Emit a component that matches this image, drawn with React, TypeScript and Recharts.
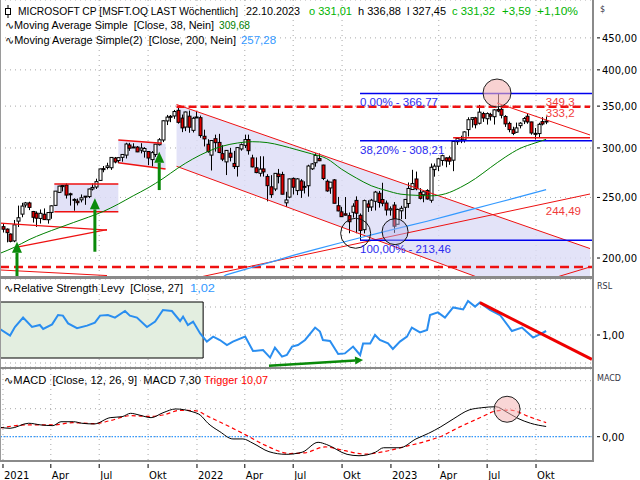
import React from 'react';
import {
  ComposedChart, Bar, Line, Area, XAxis, YAxis, CartesianGrid,
  ReferenceLine, ReferenceArea, ReferenceDot,
} from 'recharts';

const FONT = '"DejaVu Sans", "Liberation Sans", sans-serif';
const HFONT = '"Liberation Sans", "DejaVu Sans", sans-serif';

// Weekly candles, week 0 = week ending 1 Jan 2021
const opens = [224.5,222.5,218.5,213.0,229.1,235.1,243.2,245.0,237.4,235.9,231.4,235.0,230.3,236.6,242.8,254.7,260.2,261.7,253.4,247.9,246.6,247.8,251.2,250.8,257.9,259.8,266.2,278.0,279.2,278.9,289.0,286.4,289.8,292.2,303.3,301.1,301.0,297.6,296.3,296.1,287.4,292.9,303.6,308.9,331.4,337.1,337.5,344.6,334.9,324.0,337.3,320.1,335.5,335.4,313.2,304.1,292.2,310.4,306.2,293.8,285.0,294.3,283.4,280.3,298.9,302.9,309.4,289.2,278.9,273.3,277.7,270.1,260.0,257.9,272.5,272.1,245.1,250.3,268.2,256.4,265.7,259.8,261.0,277.8,284.1,288.5,281.7,265.4,258.9,266.7,242.5,237.1,235.4,233.8,236.7,247.3,234.1,222.0,244.1,241.4,246.5,253.9,248.1,244.9,238.7,243.1,226.5,238.0,241.1,244.5,257.4,267.6,254.5,252.5,256.4,247.4,277.0,280.5,286.5,289.2,289.3,286.8,307.0,309.1,309.1,321.0,333.3,335.2,328.6,340.5,334.1,339.2,336.6,345.7,345.9,336.9,328.4,320.8,317.9,325.7,331.3,337.2,330.2,316.6,316.3,330.6,331.0];
const highs = [227.2,223.0,218.9,230.1,242.6,245.1,245.9,246.1,237.9,237.5,239.2,240.1,236.9,242.8,256.0,261.0,261.8,263.2,254.4,249.2,249.0,252.8,251.3,258.3,263.2,267.9,278.0,280.7,284.1,290.0,290.2,289.6,292.9,305.8,305.7,305.2,302.1,305.3,300.9,296.5,296.6,304.5,311.1,332.0,338.8,338.7,345.1,349.7,339.3,343.0,344.3,336.4,343.8,338.0,320.9,309.8,308.5,315.1,316.0,303.1,297.6,300.1,296.8,301.0,305.0,315.1,315.1,292.6,289.7,291.0,290.9,272.4,271.4,273.3,277.7,274.8,255.3,268.0,269.1,268.5,267.5,265.3,282.0,283.7,294.2,294.0,282.0,267.1,264.7,267.5,250.5,241.5,250.4,236.5,244.7,251.0,235.7,248.0,247.4,248.7,256.1,256.1,263.9,247.2,241.9,245.8,239.9,242.4,248.3,264.2,276.8,275.0,258.7,255.6,257.7,283.3,283.3,289.3,292.7,289.8,291.6,308.9,312.0,313.8,319.0,335.9,335.9,336.5,351.5,342.7,342.0,341.5,346.0,366.8,351.9,338.5,330.5,324.4,329.4,329.9,336.2,340.9,330.4,322.9,329.2,336.1,336.9];
const lows = [219.7,211.9,211.9,212.0,224.2,232.4,240.9,238.6,227.9,224.3,227.1,230.1,227.0,231.1,242.7,254.6,255.6,249.0,242.6,238.1,242.8,245.5,243.3,249.4,256.5,257.9,265.9,274.3,277.2,276.7,283.5,283.7,285.2,288.6,296.8,300.0,295.4,294.1,289.5,281.6,280.3,290.3,302.7,306.5,326.4,329.9,334.0,328.1,318.0,319.2,317.3,317.6,335.3,311.5,301.7,294.8,276.1,296.0,294.3,285.8,271.5,285.5,277.6,270.0,297.0,300.0,292.7,279.3,273.3,270.0,270.0,246.4,249.6,255.9,263.3,252.9,241.5,249.3,252.7,252.2,249.6,253.7,250.8,276.6,280.0,285.8,266.5,255.3,253.4,244.7,237.6,232.7,233.9,219.1,232.1,219.1,213.4,219.0,237.0,237.9,238.3,240.8,242.0,233.9,233.8,219.4,226.4,230.7,230.9,240.6,257.2,256.7,248.1,245.6,248.0,245.2,269.9,275.4,281.1,279.4,281.9,275.4,303.4,305.4,306.0,313.0,323.4,322.4,327.1,330.2,327.0,331.8,327.0,342.2,334.5,324.2,317.8,314.5,317.1,322.4,327.6,328.0,315.0,309.5,311.2,326.0,327.5];
const closes = [222.4,219.6,212.7,226.0,232.0,242.2,245.0,241.0,232.4,231.6,235.8,230.4,236.5,242.4,255.9,260.7,261.2,252.2,252.5,248.2,245.2,249.7,250.8,257.9,259.4,265.0,277.7,277.9,280.8,289.7,284.9,289.5,292.9,304.4,299.7,301.1,295.7,299.9,299.4,289.1,294.9,304.2,309.2,331.6,336.1,336.7,343.1,329.7,323.0,342.5,323.8,334.7,336.3,314.0,310.2,296.0,308.3,305.9,295.0,287.9,297.3,289.9,280.1,300.4,303.7,309.4,297.0,279.8,274.0,277.5,274.7,261.1,252.6,273.2,270.0,253.0,247.7,267.7,259.6,267.7,256.7,260.4,280.7,282.9,291.9,286.2,268.1,256.1,264.5,244.7,237.9,232.9,234.2,228.6,242.1,235.9,221.4,247.1,241.2,247.5,255.0,245.4,244.7,238.7,239.8,224.9,239.2,240.2,248.2,258.4,263.1,258.1,249.2,255.3,248.6,279.4,280.6,288.3,291.6,286.1,285.8,307.3,310.7,309.0,318.3,332.9,335.4,326.8,342.3,335.0,340.5,337.2,345.2,343.8,338.4,327.8,321.0,316.5,323.0,328.7,334.3,330.2,317.0,315.8,327.3,327.7,331.32];

// x axis: quarter starts in weeks since 1 Jan 2021
const quarterTicks = [0, 12.857, 25.857, 39, 52.143, 65, 78, 91.143, 104.286, 117.143, 130.143, 143.286];
const quarterLabels = ['2021', 'Apr', 'Jul', 'Okt', '2022', 'Apr', 'Jul', 'Okt', '2023', 'Apr', 'Jul', 'Okt'];

const ma38Weeks = [-0.8,3,7,11,15,19,23,27,31,35,39,43,47,51,55,59,63,67,71,75,79,83,87,91,95,99,103,107,111,115,119,123,127,131,135,139,143,146];
const ma38Values = [203.5,208,214,219,223.5,228,232.5,237.5,244,251.5,259,268,278.5,288,296,302,305.5,307,306,302.5,298,293.5,288.5,277.5,268.5,261,256.5,253,252,251.5,253.5,259.5,268,279,290,299.5,305.5,309.68];

const ma200Weeks = [59.2,60,66,72,78,84,90,96,102,108,114,120,126,132,138,142,146];
const ma200Values = [186.6,188,192.5,197,202,206.5,211,215.5,220,224.5,229,234,239.3,244.5,249.8,253.5,257.28];

const rslWeeks = [-0.8,1.9,3.2,5.4,7.8,9.9,10.8,13.2,14.8,16.1,17.5,19.9,22.6,24.7,26.1,28.2,30.1,32.8,34.1,36,38.7,40.9,43,45.4,47.6,48.4,49.7,51.1,53,54.8,56.5,58.3,60.2,61.8,65.1,67.2,69.9,71.8,73.1,75,76.3,77.7,79.3,81.2,83.9,85.2,86,87.9,90.1,91.9,94.1,96,96.8,98.7,100,101.3,103.5,104.8,106.7,108.6,109.9,112.1,114,114.8,116.9,118.8,121,123.7,125,126.9,128.2,130.9,133.6,136.8,139.5,142.5,144.4,146];
const rslValues = [1.03,0.997,1.04,1.087,1.04,1.05,1.03,1.053,1.1,1.097,1.058,1.034,1.047,1.062,1.097,1.1,1.087,1.12,1.097,1.087,1.04,1.067,1.125,1.12,1.07,1.092,1.05,1.067,1.008,0.967,0.992,0.975,0.95,0.967,0.992,0.92,0.925,0.887,0.937,0.892,0.9,0.942,0.95,0.975,1.037,1.017,0.975,0.97,0.905,0.908,0.942,0.9,0.958,0.958,1.0,0.975,0.958,0.93,0.967,0.992,1.037,1.013,1.025,1.1,1.113,1.087,1.138,1.128,1.17,1.142,1.162,1.125,1.1,1.02,1.037,0.987,1.004,1.02];

const macdWeeks = [-0.8,1.9,6.9,10.2,13.4,15.6,19,21.2,24.5,28.8,32,34.3,36.6,39.8,43,46.4,50.8,53,55.1,58.3,61.8,64.5,67.2,71.5,76.1,80.4,84.7,87,92.5,95.7,100.1,102.3,106.7,111,114.4,117.7,121,125.3,128.7,132.5,135.2,138.4,141.8,146];
const macdValues = [6.7,6.0,9.6,8.4,7.9,10.7,10.7,9.6,9.1,13.6,14.3,16.7,15.5,13.6,17.1,19.8,17.9,15.5,9.6,3.6,-1.6,-1.6,-4.7,-10.7,-12.6,-11.1,-4.0,-5.6,-12.6,-13.6,-11.1,-7.9,-7.9,-1.6,2.4,7.1,12.6,19.1,20.7,21.4,17.9,13.1,9.6,7.3];
const triggerWeeks = [-0.8,6.7,13.4,18.8,24.5,28.8,34.1,39.8,43,47.6,51.9,55.1,61,65.1,70.4,77.2,81.2,86.6,91.9,97.3,102.7,108.1,113.4,117.5,122.8,128.2,132.8,136.3,141.7,146];
const triggerValues = [6.2,8.5,8.4,10.0,9.3,11.5,15,14.5,15.5,18.8,18.5,14.5,7,1.5,-6,-12,-11.5,-7.3,-10,-12.5,-10.5,-7,-3.5,0,7,13.5,18.5,19,14,10.07];

const priceTicks = [200, 250, 300, 350, 400, 450];
const fibLevels = [366.77, 308.21, 213.46];
const fibLabels = ['0,00% - 366,77', '38,20% - 308,21', '100,00% - 213,46'];

const X_DOMAIN: [number, number] = [-0.806, 158.6];
const PRICE_DOMAIN: [number, number] = [186.5, 517.4];
const RSL_DOMAIN: [number, number] = [0.84, 1.28];
const MACD_DOMAIN: [number, number] = [-17.36, 48.36];

const candles = closes.map((c, i) => ({ k: i, o: opens[i], h: highs[i], l: lows[i], c, range: [lows[i], highs[i]] }));
const ma38 = ma38Weeks.map((k, i) => ({ k, v: ma38Values[i] }));
const ma200 = ma200Weeks.map((k, i) => ({ k, v: ma200Values[i] }));
const rsl = rslWeeks.map((k, i) => ({ k, v: rslValues[i] }));
const macd = macdWeeks.map((k, i) => ({ k, v: macdValues[i] }));
const trigger = triggerWeeks.map((k, i) => ({ k, v: triggerValues[i] }));

const channelBand = [
  { k: 46.65, band: [280.4, 352.1] },
  { k: 127.4, band: [186.5, 239.5] },
  { k: 157.8, band: [186.5, 207.1] },
];
const box2Band = [
  { k: 31, band: [284.1, 309.0] },
  { k: 43.7, band: [277.6, 304.8] },
];

const fmt = (v: number) => v.toFixed(2).replace('.', ',');

const Candle = (props: any) => {
  const { x, y, width, height, payload } = props;
  if (!payload || y == null || height == null) return null;
  const top = Math.min(y, y + height);
  const h = Math.abs(height);
  const lh = Math.log(payload.h);
  const ll = Math.log(payload.l);
  const span = lh - ll || 1;
  const yOf = (v: number) => top + (h * (lh - Math.log(v))) / span;
  const cx = Math.round(x + width / 2);
  const yo = yOf(payload.o);
  const yc = yOf(payload.c);
  const bTop = Math.min(yo, yc);
  const bH = Math.max(1, Math.abs(yc - yo));
  const up = payload.c >= payload.o;
  return (
    <g>
      <line x1={cx + 0.5} x2={cx + 0.5} y1={top} y2={top + h} stroke="#000" strokeWidth={1} />
      <rect x={cx - 1} y={bTop} width={3} height={bH} fill={up ? '#ffffff' : '#e00000'} stroke="#000" strokeWidth={1} />
    </g>
  );
};

const arrowShape = (color: string, w: number, head: number, half: number) => (p: any) => {
  const { x1, y1, x2, y2 } = p;
  if ([x1, y1, x2, y2].some((v) => v == null || isNaN(v))) return null;
  const a = Math.atan2(y2 - y1, x2 - x1);
  const hx = x2 - head * Math.cos(a);
  const hy = y2 - head * Math.sin(a);
  const px = -Math.sin(a) * half;
  const py = Math.cos(a) * half;
  return (
    <g>
      <line x1={x1} y1={y1} x2={hx} y2={hy} stroke={color} strokeWidth={w} />
      <polygon points={`${x2},${y2} ${hx + px},${hy + py} ${hx - px},${hy - py}`} fill={color} />
    </g>
  );
};

const textShape = (txt: string, color: string, dx: number, dy: number, size = 11.5) => (p: any) => (
  <text x={p.cx + dx} y={p.cy + dy} fill={color} fontSize={size} fontFamily={HFONT} dominantBaseline="central">
    {txt}
  </text>
);

const PriceTick = (p: any) => {
  const { x, y, payload } = p;
  return (
    <g>
      <line x1={x + 2} x2={x + 5} y1={y} y2={y} stroke="#000" />
      <text x={x + 7} y={y} dy={4} fontSize={10} fontFamily={FONT} fill="#000">{fmt(payload.value)}</text>
    </g>
  );
};

const singleTick = (at: number, label: string) => (p: any) => {
  const { x, y, payload } = p;
  if (payload.value !== at) return <g />;
  return (
    <g>
      <line x1={x + 2} x2={x + 5} y1={y} y2={y} stroke="#000" />
      <text x={x + 7} y={y} dy={4} fontSize={10} fontFamily={FONT} fill="#000">{label}</text>
    </g>
  );
};

const DateTick = (p: any) => {
  const { x, y, payload } = p;
  const i = quarterTicks.indexOf(payload.value);
  return (
    <g>
      <line x1={x} x2={x} y1={y + 1} y2={y + 5} stroke="#000" />
      <text x={x + 1} y={y + 16} fontSize={10} fontFamily={FONT} fill="#000">{i >= 0 ? quarterLabels[i] : ''}</text>
    </g>
  );
};

const GRID = { stroke: '#a8a8a8', strokeDasharray: '1 4' };
const RED = '#ee1111';

// header text pieces: [text, x, baseline y, width, colour]
const headerTexts: [string, number, number, number, string][] = [
  ['MICROSOFT CP [MSFT.OQ LAST Wöchentlich]', 18, 15, 220, '#000'],
  ['22.10.2023', 246, 15, 54, '#000'],
  ['o 331,01', 309, 15, 43, '#00b400'],
  ['h 336,88', 358, 15, 43, '#000'],
  ['l 327,45', 407, 15, 39, '#000'],
  ['c 331,32', 452, 15, 43, '#00b400'],
  ['+3,59', 502, 15, 29, '#00b400'],
  ['+1,10%', 537, 15, 41, '#00b400'],
  ['∿Moving Average Simple  [Close, 38, Nein]', 5, 28.5, 209, '#000'],
  ['309,68', 219, 28.5, 31, '#008000'],
  ['∿Moving Average Simple(2)  [Close, 200, Nein]', 5, 44, 231, '#000'],
  ['257,28', 241, 44, 35, '#3399ff'],
  ['∿Relative Strength Levy  [Close, 27]', 4, 292, 179, '#000'],
  ['1,02', 190, 292, 25, '#3399ff'],
  ['∿MACD  [Close, 12, 26, 9]  MACD 7,30', 4, 384, 197, '#000'],
  ['Trigger 10,07', 204, 384, 64, '#ff0000'],
];

const T = (props: { x: number; y: number; c?: string; s?: number; children: React.ReactNode }) => (
  <div style={{ position: 'absolute', left: props.x, top: props.y - 7, fontSize: props.s ?? 8, lineHeight: '14px', color: props.c ?? '#334', whiteSpace: 'pre', fontFamily: FONT }}>
    {props.children}
  </div>
);

export default function App() {
  return (
    <div style={{ position: 'absolute', left: 0, top: 0, width: 640, height: 480, background: '#fff', overflow: 'hidden', fontFamily: FONT }}>
      {/* main price panel */}
      <div style={{ position: 'absolute', left: 0, top: 0 }}>
        <ComposedChart width={640} height={277} data={candles} margin={{ top: 0, right: 0, bottom: 0, left: 0 }}>
          <CartesianGrid {...GRID} />
          <XAxis dataKey="k" type="number" domain={X_DOMAIN} ticks={quarterTicks} hide allowDataOverflow />
          <YAxis orientation="right" width={47} scale="log" domain={PRICE_DOMAIN} ticks={priceTicks} allowDataOverflow tick={PriceTick} tickSize={0} axisLine={false} tickLine={false} interval={0} />

          <ReferenceArea x1={13.8} x2={31} y1={237.2} y2={262.7} fill="#dcdcf6" fillOpacity={0.85} stroke="none" ifOverflow="visible" />
          <Area data={box2Band} dataKey="band" type="linear" stroke="none" fill="#dcdcf6" fillOpacity={0.85} isAnimationActive={false} />
          <Area data={channelBand} dataKey="band" type="linear" stroke="none" fill="#dcdcf6" fillOpacity={0.8} isAnimationActive={false} />

          <ReferenceLine segment={[{ x: -0.8, y: 193.5 }, { x: 158.6, y: 193.5 }]} stroke={RED} strokeWidth={2.5} strokeDasharray="9 5" />
          <ReferenceLine segment={[{ x: -0.8, y: 191.4 }, { x: 27.96, y: 187.5 }]} stroke={RED} strokeWidth={1} />
          <ReferenceLine segment={[{ x: -0.8, y: 227.5 }, { x: 27.96, y: 221.7 }]} stroke={RED} strokeWidth={1.2} />
          <ReferenceLine segment={[{ x: 3.76, y: 208.2 }, { x: 27.96, y: 222.0 }]} stroke={RED} strokeWidth={1.2} />
          <ReferenceLine segment={[{ x: 13.8, y: 262.7 }, { x: 31, y: 262.7 }]} stroke={RED} strokeWidth={1.5} />
          <ReferenceLine segment={[{ x: 13.8, y: 237.2 }, { x: 31, y: 237.2 }]} stroke={RED} strokeWidth={1.5} />
          <ReferenceLine segment={[{ x: 31, y: 309.0 }, { x: 42.7, y: 305.2 }]} stroke={RED} strokeWidth={1.5} />
          <ReferenceLine segment={[{ x: 31, y: 284.1 }, { x: 43.7, y: 277.6 }]} stroke={RED} strokeWidth={1.5} />
          <ReferenceLine segment={[{ x: 46.65, y: 352.1 }, { x: 157.8, y: 207.1 }]} stroke={RED} strokeWidth={1} />
          <ReferenceLine segment={[{ x: 46.65, y: 280.4 }, { x: 127.4, y: 186.5 }]} stroke={RED} strokeWidth={1} />
          <ReferenceLine segment={[{ x: 53, y: 186.5 }, { x: 157.8, y: 253.2 }]} stroke={RED} strokeWidth={1} />
          <ReferenceLine segment={[{ x: 148.9, y: 186.5 }, { x: 157.8, y: 193.5 }]} stroke={RED} strokeWidth={1} />
          <ReferenceLine segment={[{ x: 46.65, y: 349.3 }, { x: 157.8, y: 349.3 }]} stroke={RED} strokeWidth={2.5} strokeDasharray="8 4" />
          <ReferenceLine segment={[{ x: 132.8, y: 354.0 }, { x: 157.8, y: 314.7 }]} stroke={RED} strokeWidth={1} />
          <ReferenceLine segment={[{ x: 121, y: 311.6 }, { x: 157.8, y: 311.6 }]} stroke={RED} strokeWidth={1.5} />
          {fibLevels.map((lv) => (
            <ReferenceLine key={lv} segment={[{ x: 95.97, y: lv }, { x: 158.6, y: lv }]} stroke="#0000ee" strokeWidth={1.5} />
          ))}

          <Line data={ma200} dataKey="v" type="linear" stroke="#3399ff" strokeWidth={1.2} dot={false} isAnimationActive={false} />
          <Line data={ma38} dataKey="v" type="monotone" stroke="#008000" strokeWidth={1} dot={false} isAnimationActive={false} />

          <ReferenceDot x={94.8} y={219.1} r={15} fill="none" stroke="#111" strokeWidth={1} />
          <ReferenceDot x={105.4} y={220.4} r={13} fill="#b8b8ee" fillOpacity={0.45} stroke="#111" strokeWidth={1} />

          <Bar dataKey="range" barSize={3} shape={Candle} isAnimationActive={false} />

          <ReferenceDot x={132.8} y={367.3} r={14} fill="#f4b4b4" fillOpacity={0.6} stroke="#222" strokeWidth={1} />

          <ReferenceLine segment={[{ x: 3.76, y: 186.6 }, { x: 3.76, y: 212.4 }]} shape={arrowShape('#0a8a0a', 3, 11, 5)} />
          <ReferenceLine segment={[{ x: 24.7, y: 204.7 }, { x: 24.7, y: 249.2 }]} shape={arrowShape('#0a8a0a', 3, 11, 5)} />
          <ReferenceLine segment={[{ x: 42, y: 256.9 }, { x: 42, y: 295.9 }]} shape={arrowShape('#0a8a0a', 3, 11, 5)} />

          {fibLevels.map((lv, i) => (
            <ReferenceDot key={'fl' + i} x={95.97} y={lv} r={0} shape={textShape(fibLabels[i], '#2b2bf0', 0, 9)} />
          ))}
          <ReferenceDot x={145.9} y={349.3} r={0} shape={textShape('349,3', '#f03a3a', 0, -5)} />
          <ReferenceDot x={145.9} y={333.2} r={0} shape={textShape('333,2', '#f03a3a', 0, -6)} />
          <ReferenceDot x={145.9} y={244.49} r={0} shape={textShape('244,49', '#f03a3a', 0, 7)} />
        </ComposedChart>
      </div>

      {/* RSL panel */}
      <div style={{ position: 'absolute', left: 0, top: 279 }}>
        <ComposedChart width={640} height={88} data={rsl} margin={{ top: 0, right: 0, bottom: 0, left: 0 }}>
          <CartesianGrid {...GRID} />
          <XAxis dataKey="k" type="number" domain={X_DOMAIN} ticks={quarterTicks} hide allowDataOverflow />
          <YAxis orientation="right" width={47} domain={RSL_DOMAIN} ticks={[0.86, 1, 1.14]} allowDataOverflow tick={singleTick(1, '1,00')} tickSize={0} axisLine={false} tickLine={false} interval={0} />
          <ReferenceArea x1={-0.8} x2={53.8} y1={0.885} y2={1.165} fill="#e3eee0" fillOpacity={1} stroke="#000" strokeWidth={1} ifOverflow="visible" />
          <Line dataKey="v" type="linear" stroke="#2a8ef0" strokeWidth={2} dot={false} isAnimationActive={false} />
          <ReferenceLine segment={[{ x: 128.2, y: 1.1615 }, { x: 158.3, y: 0.8785 }]} stroke="#ee0000" strokeWidth={3} />
          <ReferenceLine segment={[{ x: 71.5, y: 0.8465 }, { x: 96.8, y: 0.875 }]} shape={arrowShape('#0a8a0a', 2.5, 8, 4)} />
        </ComposedChart>
      </div>

      {/* MACD panel */}
      <div style={{ position: 'absolute', left: 0, top: 369 }}>
        <ComposedChart width={640} height={111} data={macd} margin={{ top: 0, right: 0, bottom: 0, left: 0 }}>
          <CartesianGrid {...GRID} />
          <XAxis dataKey="k" type="number" domain={X_DOMAIN} ticks={quarterTicks} height={19} tick={DateTick} tickSize={0} axisLine={false} tickLine={false} interval={0} allowDataOverflow />
          <YAxis orientation="right" width={47} domain={MACD_DOMAIN} ticks={[0, 20, 40]} allowDataOverflow tick={singleTick(0, '0,00')} tickSize={0} axisLine={false} tickLine={false} interval={0} />
          <ReferenceLine y={0} stroke="#3399ff" strokeWidth={1.2} strokeDasharray="1.5 1.5" />
          <Line data={trigger} dataKey="v" type="monotone" stroke="#ff0000" strokeWidth={1.2} strokeDasharray="4 3" dot={false} isAnimationActive={false} />
          <Line data={macd} dataKey="v" type="monotone" stroke="#000" strokeWidth={1} dot={false} isAnimationActive={false} />
          <ReferenceDot x={135.5} y={19.6} r={13} fill="#f4b4b4" fillOpacity={0.55} stroke="#222" strokeWidth={1} />
        </ComposedChart>
      </div>

      {/* frame */}
      <div style={{ position: 'absolute', left: 0, top: 0, width: 1, height: 462, background: '#9a9a9a' }} />
      <div style={{ position: 'absolute', left: 592, top: 0, width: 2, height: 462, background: '#8a8a8a' }} />
      <div style={{ position: 'absolute', left: 0, top: 276, width: 594, height: 3, background: '#8a8a8a' }} />
      <div style={{ position: 'absolute', left: 0, top: 367, width: 594, height: 2, background: '#8a8a8a' }} />
      <div style={{ position: 'absolute', left: 0, top: 460, width: 594, height: 2, background: '#8a8a8a' }} />

      {/* headers */}
      <svg style={{ position: 'absolute', left: 0, top: 0 }} width={640} height={480}>
        <line x1={8} x2={8} y1={5} y2={18} stroke="#000" />
        <rect x={5.5} y={8.5} width={5} height={6} fill="#fff" stroke="#000" />
        {headerTexts.map(([txt, x, y, w, col], i) => (
          <text key={i} x={x} y={y} fill={col} fontSize={10.4} fontFamily={HFONT} textLength={w} lengthAdjust="spacingAndGlyphs" style={{ whiteSpace: 'pre' }}>
            {txt}
          </text>
        ))}
      </svg>
      <T x={600} y={10}>$</T>
      <T x={597} y={287}>RSL</T>
      <T x={597} y={379}>MACD</T>
    </div>
  );
}
